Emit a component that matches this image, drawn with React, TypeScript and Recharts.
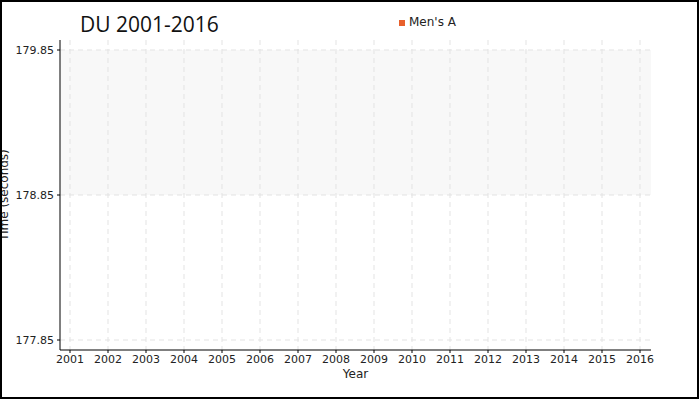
import React from 'react';
import { LineChart, Line, XAxis, YAxis, CartesianGrid, Legend, Label } from 'recharts';

const years = [2001, 2002, 2003, 2004, 2005, 2006, 2007, 2008, 2009, 2010, 2011, 2012, 2013, 2014, 2015, 2016];
// no times plotted in the reference
const mensA: (number | null)[] = [null, null, null, null, null, null, null, null, null, null, null, null, null, null, null, null];
const yTicks = [177.85, 178.85, 179.85];

const data = years.map((year, i) => ({ year, mensA: mensA[i] }));

const YLabel = (props: any) => {
    const cy = props.viewBox ? props.viewBox.y + props.viewBox.height / 2 : 195;
    return (
        <text x={8} y={cy} transform={`rotate(-90, 8, ${cy})`} textAnchor="middle" fontSize={12} fill="#222">
            Time (seconds)
        </text>
    );
};

const App: React.FC = () => {
    return (
        <div style={{ position: 'relative', width: 700, height: 400, fontFamily: '"DejaVu Sans", sans-serif', background: '#fff' }}>
            <style>{`body { margin: 0; } .recharts-wrapper text { font-family: "DejaVu Sans", sans-serif; }`}</style>
            <div style={{ position: 'absolute', left: 80, top: 9, fontFamily: '"Open Sans"', fontSize: 21, color: '#111', lineHeight: '30px' }}>
                DU 2001-2016
            </div>
            <LineChart width={700} height={400} data={data} margin={{ top: 40, right: 49, left: 0, bottom: 20 }}>
                <CartesianGrid
                    stroke="#e3e3e3"
                    strokeDasharray="5 4"
                    syncWithTicks
                    horizontalFill={['none', '#f8f8f8', 'none', 'none']}
                />
                <XAxis
                    dataKey="year"
                    type="number"
                    domain={[2001, 2016]}
                    allowDataOverflow
                    ticks={years}
                    interval={0}
                    padding={{ left: 10, right: 11 }}
                    tickSize={3}
                    tickMargin={2}
                    stroke="#000"
                    tick={{ fill: '#222', fontSize: 11 }}
                    height={30}
                >
                    <Label value="Year" position="insideBottom" offset={2} fontSize={12} fill="#222" />
                </XAxis>
                <YAxis
                    type="number"
                    domain={[177.85, 179.85]}
                    allowDataOverflow
                    ticks={yTicks}
                    interval={0}
                    padding={{ top: 10, bottom: 10 }}
                    tickSize={3}
                    tickMargin={3}
                    stroke="#000"
                    tick={{ fill: '#222', fontSize: 11 }}
                    width={60}
                >
                    <Label content={<YLabel />} />
                </YAxis>
                <Legend
                    verticalAlign="middle"
                    align="center"
                    layout="horizontal"
                    iconType="square"
                    iconSize={6}
                    wrapperStyle={{ top: 15, left: 399, width: 'auto', fontSize: 12 }}
                    formatter={(value) => <span style={{ color: '#222' }}>{value}</span>}
                />
                <Line
                    type="linear"
                    dataKey="mensA"
                    name="Men's A"
                    stroke="#e8602c"
                    strokeWidth={2}
                    dot={false}
                    isAnimationActive={false}
                />
            </LineChart>
            <div style={{ position: 'absolute', left: 0, top: 0, width: 699, height: 399, boxSizing: 'border-box', border: '2px solid #000', pointerEvents: 'none' }} />
        </div>
    );
};

export default App;
